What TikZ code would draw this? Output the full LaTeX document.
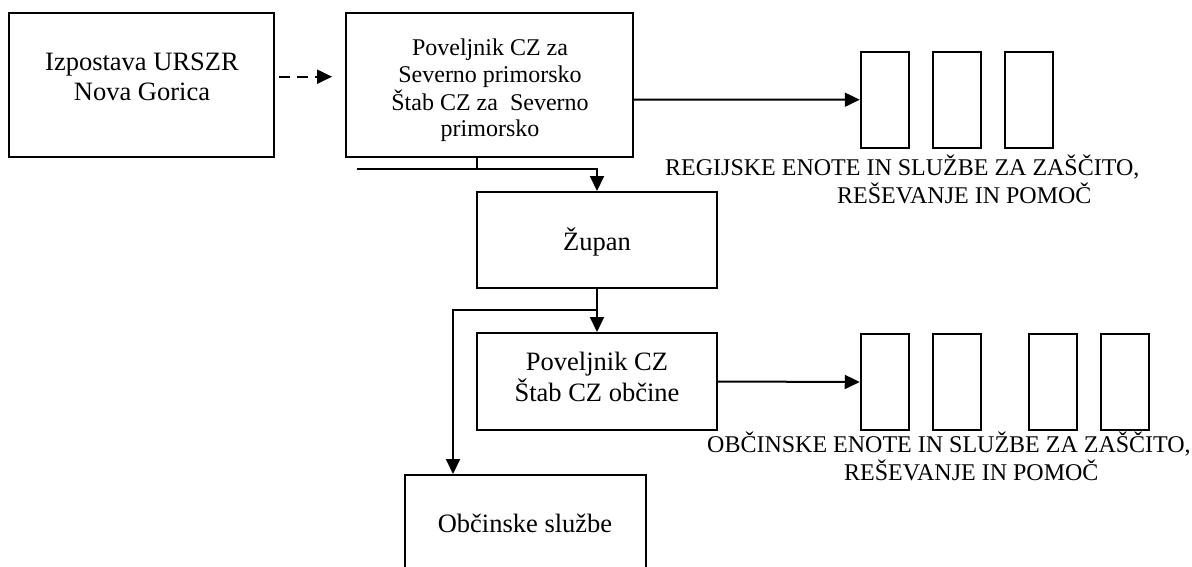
\documentclass[tikz,border=0pt]{standalone}
\usepackage{fontspec}
\setmainfont{Liberation Serif}
\usetikzlibrary{arrows.meta}
\begin{document}
\begin{tikzpicture}[x=1pt,y=-1pt,
  box/.style={draw,line width=2pt,inner sep=0pt},
  smallbox/.style={draw,line width=2pt,inner sep=0pt,minimum width=48.3pt,minimum height=96pt},
  bigtxt/.style={font=\fontsize{26.5}{30}\selectfont,anchor=base,inner sep=0pt},
  midtxt/.style={font=\fontsize{24}{27.5}\selectfont,anchor=base,inner sep=0pt},
  labtxt/.style={font=\fontsize{24}{27.5}\selectfont,anchor=base west,inner sep=0pt},
  conn/.style={line width=2pt},
  arr/.style={conn,-{Triangle[length=15pt,width=14pt]}},
]
\path[use as bounding box] (0,0) rectangle (1192,566);
\clip (0,0) rectangle (1192,566);

% main boxes
\node[box,minimum width=264.7pt,minimum height=143.4pt] (izp) at (141.7,85) {};
\node[box,minimum width=287.3pt,minimum height=143.4pt] (pov1) at (489.4,85) {};
\node[box,minimum width=240pt,minimum height=96pt] (zup) at (597,240) {};
\node[box,minimum width=240pt,minimum height=97pt] (pov2) at (597,381.5) {};
\node[box,minimum width=240.7pt,minimum height=130pt] (obc) at (525.3,540) {};

% small boxes (regional)
\node[smallbox] (r1) at (884.9,99.7) {};
\node[smallbox] (r2) at (957.2,99.7) {};
\node[smallbox] (r3) at (1028.8,99.7) {};
% small boxes (municipal)
\node[smallbox] (m1) at (884.9,382) {};
\node[smallbox] (m2) at (957.2,382) {};
\node[smallbox] (m3) at (1053,382) {};
\node[smallbox] (m4) at (1125,382) {};

% texts
\node[bigtxt] (t1a) at (142,70.7) {Izpostava URSZR};
\node[bigtxt] (t1b) at (142,100.5) {Nova Gorica};
\node[midtxt] (t2a) at (490,55) {Poveljnik CZ za};
\node[midtxt] (t2b) at (490,82.7) {Severno primorsko};
\node[midtxt] (t2c) at (490,110) {Štab CZ za\ \ Severno};
\node[midtxt] (t2d) at (490,136.7) {primorsko};
\node[bigtxt] (t3) at (597,250) {Župan};
\node[bigtxt] (t4a) at (597,370) {Poveljnik CZ};
\node[bigtxt] (t4b) at (597,401) {Štab CZ občine};
\node[bigtxt] (t5) at (525,532.7) {Občinske službe};

\node[labtxt] (la1) at (665,175.5) {REGIJSKE ENOTE IN SLUŽBE ZA ZAŠČITO,};
\node[labtxt] (la2) at (837,203.3) {REŠEVANJE IN POMOČ};
\node[labtxt] (lb1) at (707,452.7) {OBČINSKE ENOTE IN SLUŽBE ZA ZAŠČITO,};
\node[labtxt] (lb2) at (844,480) {REŠEVANJE IN POMOČ};

% connectors
\draw[arr,dash pattern=on 11pt off 7pt] ([shift={(4,-8.3)}]izp.east) -- ([shift={(-12.7,-8.3)}]pov1.west);
\draw[arr] ([yshift=-14.5pt]pov1.east) -- (r1.west);

\coordinate (j1) at (476.7,169.3);
\coordinate (l1) at (357,169.3);
\draw[conn] (j1 |- pov1.south) -- (j1);
\draw[arr] (l1) -- (l1 -| zup.north) -- (zup.north);

\draw[arr] (zup.south) -- (pov2.north);
\coordinate (j2) at (597,310);
\coordinate (c3) at (453,310);
\draw[arr] (j2) -- (c3) -- (c3 |- obc.north);

\draw[arr] (pov2.east) -- (m1.west);
\end{tikzpicture}
\end{document}
